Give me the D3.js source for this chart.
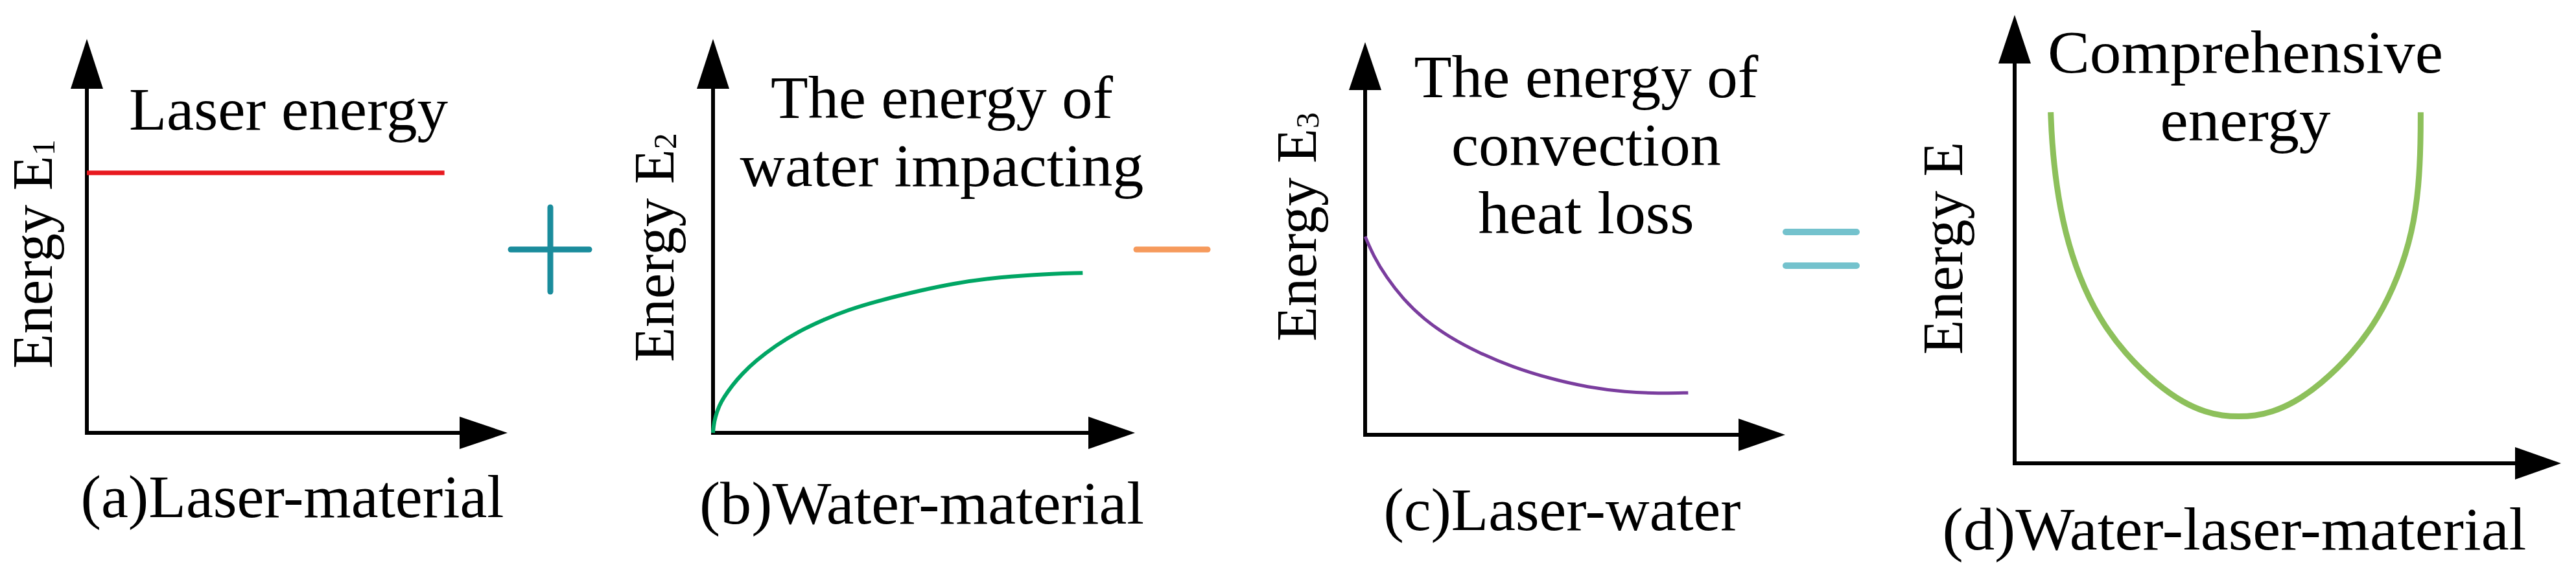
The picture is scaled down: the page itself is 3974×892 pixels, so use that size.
<!DOCTYPE html>
<html>
<head>
<meta charset="utf-8">
<script src="https://cdn.jsdelivr.net/npm/d3@7"></script>
<style>
  html, body { margin: 0; padding: 0; background: #ffffff; }
  svg { display: block; }
  text { font-family: "Liberation Serif", "DejaVu Serif", serif; fill: #000; }
</style>
</head>
<body>
<svg id="chart" width="3974" height="892"></svg>
<script>
// ---------------- data ----------------
const captions = ["(a)Laser-material", "(b)Water-material", "(c)Laser-water", "(d)Water-laser-material"];
const yLabelMain = ["Energy E", "Energy E", "Energy E", "Energy E"];
const yLabelSub = ["1", "2", "3", ""];
const titleLines = [
  ["Laser energy"],
  ["The energy of", "water impacting"],
  ["The energy of", "convection", "heat loss"],
  ["Comprehensive", "energy"]
];
const operators = ["+", "-", "="];

// (a) laser energy (constant)
const laserX = [0, 85];
const laserY = [66, 66];
// (b) energy of water impacting (rising, saturating)
const waterX = [0, 0.1, 0.5, 1.5, 2.5, 4.5, 6.9, 10, 14.9, 20, 26.3, 32, 38.7, 49.3, 57, 65, 76, 87.6];
const waterY = [0, 1.5, 4, 7, 8.9, 12, 15, 18.2, 22.2, 25.6, 28.8, 31.2, 33.4, 36.2, 37.9, 39.2, 40.2, 40.6];
// (c) energy of convection heat loss (decaying)
const convX = [0, 2, 5, 9, 14, 20, 27, 35, 44, 53, 62, 70, 76.9];
const convY = [50.5, 45.5, 40.2, 34.6, 29.4, 24.9, 20.9, 17.3, 14.3, 12.1, 10.9, 10.5, 10.7];
// (d) comprehensive energy (U-shape)
const compX = [6.6, 6.8, 7.6, 9.2, 11.8, 15.4, 20.2, 26.0, 31.0, 35.0, 38.0, 41.0, 44.0, 47.0, 51.0, 56.0, 61.8, 66.6, 70.2, 72.8, 74.0, 74.3, 74.3];
const compY = [78.3, 72.0, 62.0, 51.5, 41.5, 32.4, 24.4, 17.6, 13.4, 11.4, 10.6, 10.4, 10.6, 11.4, 13.4, 17.6, 24.4, 32.4, 41.5, 51.5, 62.0, 72.0, 78.3];

// ---------------- layout ----------------
const svg = d3.select("#chart");
const FS = 94;

const panels = [
  { ox: 134,  oy: 668, tx: 783,  ty: 60, yb: 137, xb: 709,
    ylab: { x: 80,   y: 392 },
    title: { cx: 445,  base: 200, widths: [492] },
    cap: { cx: 451,  base: 798, w: 653 },
    series: { xs: laserX, ys: laserY, color: "#e8191f", w: 7, curve: d3.curveLinear } },
  { ox: 1100, oy: 668, tx: 1751, ty: 60, yb: 137, xb: 1679,
    ylab: { x: 1039, y: 382 },
    title: { cx: 1453, base: 182, widths: [528, 623] },
    cap: { cx: 1422, base: 808, w: 686 },
    series: { xs: waterX, ys: waterY, color: "#00a664", w: 6, curve: d3.curveBasis } },
  { ox: 2106, oy: 671, tx: 2754, ty: 65, yb: 139, xb: 2682,
    ylab: { x: 2030, y: 350 },
    title: { cx: 2447, base: 150, widths: [531, 416, 333] },
    cap: { cx: 2410, base: 818, w: 551 },
    series: { xs: convX, ys: convY, color: "#7a3d9e", w: 5, curve: d3.curveBasis } },
  { ox: 3108, oy: 715, tx: 3951, ty: 23, yb: 98, xb: 3880,
    ylab: { x: 3027, y: 383 },
    title: { cx: 3464, base: 112, widths: [610, 263] },
    cap: { cx: 3447, base: 848, w: 901 },
    series: { xs: compX, ys: compY, color: "#8dc05b", w: 9, curve: d3.curveBasis } }
];

const LINE_H = 105;
const HALF = 25;

panels.forEach((p, i) => {
  const g = svg.append("g");
  const x = d3.scaleLinear().domain([0, 100]).range([p.ox, p.tx]);
  const y = d3.scaleLinear().domain([0, 100]).range([p.oy, p.ty]);

  // axes
  g.append("path")
    .attr("d", `M${p.ox},${p.yb} L${p.ox},${p.oy} L${p.xb},${p.oy}`)
    .attr("fill", "none").attr("stroke", "#000").attr("stroke-width", 6)
    .attr("stroke-linejoin", "miter");
  g.append("path")
    .attr("d", `M${p.ox},${p.ty} L${p.ox - HALF},${p.yb} L${p.ox + HALF},${p.yb} Z`)
    .attr("fill", "#000");
  g.append("path")
    .attr("d", `M${p.tx},${p.oy} L${p.xb},${p.oy - HALF} L${p.xb},${p.oy + HALF} Z`)
    .attr("fill", "#000");

  // series
  const pts = p.series.xs.map((v, k) => [v, p.series.ys[k]]);
  const line = d3.line().x(d => x(d[0])).y(d => y(d[1])).curve(p.series.curve);
  g.append("path")
    .attr("d", line(pts))
    .attr("fill", "none")
    .attr("stroke", p.series.color)
    .attr("stroke-width", p.series.w)
    .attr("stroke-linecap", "butt");

  // y label
  const yl = g.append("text")
    .attr("transform", `translate(${p.ylab.x},${p.ylab.y}) rotate(-90)`)
    .attr("text-anchor", "middle")
    .attr("font-size", 88);
  yl.append("tspan").text(yLabelMain[i]);
  if (yLabelSub[i]) {
    yl.append("tspan").attr("font-size", 50).attr("dy", 4).text(yLabelSub[i]);
  }

  // title lines
  titleLines[i].forEach((t, k) => {
    g.append("text")
      .attr("x", p.title.cx)
      .attr("y", p.title.base + k * LINE_H)
      .attr("text-anchor", "middle")
      .attr("font-size", FS)
      .attr("textLength", p.title.widths[k])
      .attr("lengthAdjust", "spacingAndGlyphs")
      .text(t);
  });

  // caption
  g.append("text")
    .attr("x", p.cap.cx)
    .attr("y", p.cap.base)
    .attr("text-anchor", "middle")
    .attr("font-size", FS)
    .attr("textLength", p.cap.w)
    .attr("lengthAdjust", "spacingAndGlyphs")
    .text(captions[i]);
});

// operators between panels
const opG = svg.append("g");
// plus
opG.append("g").attr("class", "op-plus").attr("data-op", operators[0])
  .selectAll("line").data([[788, 385, 909, 385], [849, 320, 849, 450]]).join("line")
  .attr("x1", d => d[0]).attr("y1", d => d[1]).attr("x2", d => d[2]).attr("y2", d => d[3])
  .attr("stroke", "#1a8c9c").attr("stroke-width", 9).attr("stroke-linecap", "round");
// minus
opG.append("g").attr("class", "op-minus").attr("data-op", operators[1])
  .selectAll("line").data([[1753, 385, 1863, 385]]).join("line")
  .attr("x1", d => d[0]).attr("y1", d => d[1]).attr("x2", d => d[2]).attr("y2", d => d[3])
  .attr("stroke", "#f69a5c").attr("stroke-width", 9).attr("stroke-linecap", "round");
// equals
opG.append("g").attr("class", "op-equals").attr("data-op", operators[2])
  .selectAll("line").data([[2755, 358, 2864, 358], [2755, 410, 2864, 410]]).join("line")
  .attr("x1", d => d[0]).attr("y1", d => d[1]).attr("x2", d => d[2]).attr("y2", d => d[3])
  .attr("stroke", "#74c2cd").attr("stroke-width", 10).attr("stroke-linecap", "round");
</script>
</body>
</html>
